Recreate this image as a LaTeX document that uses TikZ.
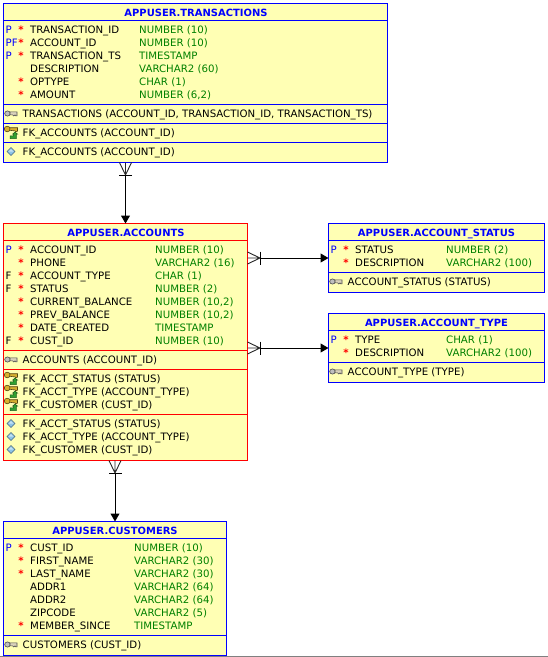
\documentclass[tikz,border=0pt]{standalone}
\usepackage{fontspec}
\setmainfont{DejaVu Sans}
\usetikzlibrary{arrows.meta,calc}

\definecolor{tablefill}{HTML}{FFFFB4}
\definecolor{typegreen}{HTML}{008000}
\definecolor{keygold}{HTML}{D8B030}
\definecolor{arrowgreen}{HTML}{30A030}
\definecolor{idxblue}{HTML}{8CC4E8}

\tikzset{
  tablebox/.style={rectangle,draw=#1,fill=tablefill,line width=1pt,inner sep=0pt,outer sep=0pt,anchor=north west},
  tableline/.style={draw=#1,line width=1pt},
  tabletitle/.style={font=\fontsize{9.95}{12}\selectfont\bfseries,text=blue,anchor=base},
  celltext/.style={font=\fontsize{10.2}{12}\selectfont,anchor=base west,inner sep=0pt},
  reqstar/.style={celltext,font=\fontsize{10.2}{12}\selectfont\bfseries,text=red,anchor=base},
  rel/.style={line width=1pt,shorten <=12.5pt,-{Triangle[length=8pt,width=9pt]}},
  crowfoot/.pic={
    \draw[-,shorten <=0pt,line width=0.9pt,black!85] (0,-6) -- (12.5,0) -- (0,6) (0,0) -- (12.5,0);
    \draw[-,shorten <=0pt,line width=0.9pt] (12.5,-6.5) -- (12.5,6.5);
  },
  pkicon/.pic={
    \filldraw[fill=black!25,draw=black!70,line width=0.6pt] (-3.5,0) ellipse (2.8 and 2.6);
    \filldraw[fill=keygold!60!black!30,draw=black!70,line width=0.6pt] (-1,-1.6) -- (6,-1.6) -- (6,2.4) -- (4.6,2.4) -- (4,1.4) -- (2.8,2.4) -- (1.6,1.4) -- (-1,1.4) -- cycle;
  },
  fkicon/.pic={
    \filldraw[fill=keygold,draw=black!60!keygold,line width=0.6pt] (-3.8,-3.5) ellipse (3 and 2.8);
    \filldraw[fill=keygold,draw=black!60!keygold,line width=0.6pt] (-1.2,-4.8) -- (6.5,-4.8) -- (6.5,-1.4) -- (5,-0.6) -- (4,-1.6) -- (-1.2,-2.2) -- cycle;
    \filldraw[fill=arrowgreen,draw=arrowgreen!60!black,line width=0.5pt] (-1,6) -- (-1,3.4) -- (2.6,3.4) -- (2.6,1.6) -- (1.6,1.6) -- (4,-0.4) -- (6.6,1.6) -- (5.4,1.6) -- (5.4,6) -- cycle;
  },
  idxicon/.pic={
    \filldraw[fill=idxblue,draw=black!45!idxblue,line width=0.5pt] (-4,0) -- (0,-4) -- (4,0) -- (0,4) -- cycle;
    \fill[white,opacity=0.5] (-2.5,0) -- (0,-2.5) -- (2.5,0) -- cycle;
  },
}

% #1 prefix, #2 table left, #3 type column, #4 first row, #5 rows
\newcommand{\tablecols}[5]{
  \foreach \keyflag/\reqflag/\colname/\coltype [count=\i] in {#5} {
    \node[celltext] (#1key\i) at ({#2+2},{#4+3.5+(\i-1)*13}) {\keyflag};
    \node[reqstar] (#1req\i) at ({#2+17.5},{#4+3.5+(\i-1)*13}) {\reqflag};
    \node[celltext] (#1col\i) at ({#2+26.5},{#4+3.5+(\i-1)*13}) {\colname};
    \node[celltext,text=typegreen] (#1type\i) at (#3,{#4+3.5+(\i-1)*13}) {\coltype};
  }
}
% #1 prefix, #2 icon, #3 table left, #4 row, #5 text
\newcommand{\indexrow}[5]{
  \pic at ({#3+7.5},#4) {#2};
  \node[celltext] (#1) at ({#3+19},{#4+3.5}) {#5};
}
\newcommand{\pk}{\textcolor{blue}{P}}
\newcommand{\pf}{\textcolor{blue}{PF}}

\begin{document}
\begin{tikzpicture}[x=1pt,y=-1pt]
  \useasboundingbox (0,0) rectangle (548,657);
  \draw[black!50,line width=1pt] (0,656.5) -- (548,656.5);

  % tables
  \node[tablebox=blue,minimum width=383.5pt,minimum height=159pt] (txn) at (3.5,3.5) {};
  \node[tablebox=red,minimum width=244pt,minimum height=237pt] (acct) at (3.5,223.5) {};
  \node[tablebox=blue,minimum width=223pt,minimum height=134pt] (cust) at (3.5,521.5) {};
  \node[tablebox=blue,minimum width=216pt,minimum height=69pt] (status) at (328.5,223.5) {};
  \node[tablebox=blue,minimum width=216pt,minimum height=69pt] (acctype) at (328.5,313.5) {};

  \foreach \y in {20.5,104,123.5,142.5}
    \draw[tableline=blue] (txn.west |- 0,\y) -- (txn.east |- 0,\y);
  \foreach \y in {240.5,350.5,369.5,414.5}
    \draw[tableline=red] (acct.west |- 0,\y) -- (acct.east |- 0,\y);
  \foreach \y in {538.5,635.5}
    \draw[tableline=blue] (cust.west |- 0,\y) -- (cust.east |- 0,\y);
  \foreach \y in {240.5,272.5}
    \draw[tableline=blue] (status.west |- 0,\y) -- (status.east |- 0,\y);
  \foreach \y in {330.5,362.5}
    \draw[tableline=blue] (acctype.west |- 0,\y) -- (acctype.east |- 0,\y);

  % titles
  \node[tabletitle] (txntitle) at (196,16) {APPUSER.TRANSACTIONS};
  \node[tabletitle] (accttitle) at (126,236) {APPUSER.ACCOUNTS};
  \node[tabletitle] (custtitle) at (115,534) {APPUSER.CUSTOMERS};
  \node[tabletitle] (statustitle) at (436.5,236) {APPUSER.ACCOUNT\_STATUS};
  \node[tabletitle] (acctypetitle) at (436.5,326) {APPUSER.ACCOUNT\_TYPE};

  % columns
  \tablecols{txn}{3.5}{139}{29.5}{
    \pk/*/TRANSACTION\_ID/NUMBER (10),
    \pf/*/ACCOUNT\_ID/NUMBER (10),
    \pk/*/TRANSACTION\_TS/TIMESTAMP,
    {}/{}/DESCRIPTION/VARCHAR2 (60),
    {}/*/OPTYPE/CHAR (1),
    {}/*/AMOUNT/{NUMBER (6,2)}}
  \tablecols{acct}{3.5}{155}{249.5}{
    \pk/*/ACCOUNT\_ID/NUMBER (10),
    {}/*/PHONE/VARCHAR2 (16),
    F/*/ACCOUNT\_TYPE/CHAR (1),
    F/*/STATUS/NUMBER (2),
    {}/*/CURRENT\_BALANCE/{NUMBER (10,2)},
    {}/*/PREV\_BALANCE/{NUMBER (10,2)},
    {}/*/DATE\_CREATED/TIMESTAMP,
    F/*/CUST\_ID/NUMBER (10)}
  \tablecols{cust}{3.5}{134}{547.5}{
    \pk/*/CUST\_ID/NUMBER (10),
    {}/*/FIRST\_NAME/VARCHAR2 (30),
    {}/*/LAST\_NAME/VARCHAR2 (30),
    {}/{}/ADDR1/VARCHAR2 (64),
    {}/{}/ADDR2/VARCHAR2 (64),
    {}/{}/ZIPCODE/VARCHAR2 (5),
    {}/*/MEMBER\_SINCE/TIMESTAMP}
  \tablecols{status}{328.5}{446}{249.5}{
    \pk/*/STATUS/NUMBER (2),
    {}/*/DESCRIPTION/VARCHAR2 (100)}
  \tablecols{acctype}{328.5}{446}{339.5}{
    \pk/*/TYPE/CHAR (1),
    {}/*/DESCRIPTION/VARCHAR2 (100)}

  % keys and indexes
  \indexrow{txnpk}{pkicon}{3.5}{113.5}{TRANSACTIONS (ACCOUNT\_ID, TRANSACTION\_ID, TRANSACTION\_TS)}
  \indexrow{txnfk}{fkicon}{3.5}{132.5}{FK\_ACCOUNTS (ACCOUNT\_ID)}
  \indexrow{txnidx}{idxicon}{3.5}{151.5}{FK\_ACCOUNTS (ACCOUNT\_ID)}
  \indexrow{acctpk}{pkicon}{3.5}{359.5}{ACCOUNTS (ACCOUNT\_ID)}
  \indexrow{acctfka}{fkicon}{3.5}{378.5}{FK\_ACCT\_STATUS (STATUS)}
  \indexrow{acctfkb}{fkicon}{3.5}{391.5}{FK\_ACCT\_TYPE (ACCOUNT\_TYPE)}
  \indexrow{acctfkc}{fkicon}{3.5}{404.5}{FK\_CUSTOMER (CUST\_ID)}
  \indexrow{acctidxa}{idxicon}{3.5}{423.5}{FK\_ACCT\_STATUS (STATUS)}
  \indexrow{acctidxb}{idxicon}{3.5}{436.5}{FK\_ACCT\_TYPE (ACCOUNT\_TYPE)}
  \indexrow{acctidxc}{idxicon}{3.5}{449.5}{FK\_CUSTOMER (CUST\_ID)}
  \indexrow{custpk}{pkicon}{3.5}{644.5}{CUSTOMERS (CUST\_ID)}
  \indexrow{statuspk}{pkicon}{328.5}{281.5}{ACCOUNT\_STATUS (STATUS)}
  \indexrow{acctypepk}{pkicon}{328.5}{371.5}{ACCOUNT\_TYPE (TYPE)}

  % relations
  \draw[rel] (txn.south -| acct.north) -- (acct.north) pic[pos=0,sloped,allow upside down]{crowfoot};
  \draw[rel] (acct.south -| cust.north) -- (cust.north) pic[pos=0,sloped,allow upside down]{crowfoot};
  \draw[rel] (acct.east |- status.west) -- (status.west) pic[pos=0,sloped,allow upside down]{crowfoot};
  \draw[rel] (acct.east |- acctype.west) -- (acctype.west) pic[pos=0,sloped,allow upside down]{crowfoot};
\end{tikzpicture}
\end{document}
